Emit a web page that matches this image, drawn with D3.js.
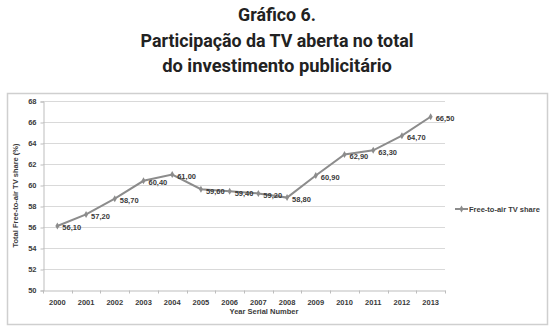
<!DOCTYPE html>
<html>
<head>
<meta charset="utf-8">
<script src="https://cdn.jsdelivr.net/npm/d3@7"></script>
<style>
  body { margin: 0; background: #fff; }
  svg { display: block; }
</style>
</head>
<body>
<div id="chart"></div>
<script>
// chart data
var titleLines = ["Gráfico 6.", "Participação da TV aberta no total", "do investimento publicitário"];
var titleWidths = [78, 273, 230]; // widths (condensed face)
var years = ["2000", "2001", "2002", "2003", "2004", "2005", "2006", "2007", "2008", "2009", "2010", "2011", "2012", "2013"];
var share = [56.10, 57.20, 58.70, 60.40, 61.00, 59.60, 59.40, 59.20, 58.80, 60.90, 62.90, 63.30, 64.70, 66.50];
var yTicks = [50, 52, 54, 56, 58, 60, 62, 64, 66, 68];
var seriesName = "Free-to-air TV share";

var w = 554, h = 331;
var plot = { left: 43, right: 445, top: 101, bottom: 290 };

var svg = d3.select("#chart").append("svg")
    .attr("width", w)
    .attr("height", h);

// title, squeezed horizontally to mimic the condensed face
svg.append("g").selectAll("text")
    .data(titleLines)
    .enter().append("text")
    .attr("text-anchor", "middle")
    .style("font-family", "Roboto, 'Liberation Sans', sans-serif")
    .style("font-weight", "bold")
    .style("font-size", "19px")
    .style("fill", "#222")
    .text(function(d) { return d; })
    .attr("transform", function(d, i) {
        var k = titleWidths[i] / this.getComputedTextLength();
        return "translate(277," + (21 + i * 25.5) + ") scale(" + k + ",1)";
    });

// chart frame
svg.append("rect")
    .attr("x", 7.5).attr("y", 93.5)
    .attr("width", 540).attr("height", 231)
    .attr("fill", "#fff")
    .attr("stroke", "#cfcfcf")
    .attr("stroke-width", 1.5);

var x = d3.scaleBand().domain(years).range([plot.left, plot.right]);
var y = d3.scaleLinear().domain([50, 68]).range([plot.bottom, plot.top]);

// gridlines
svg.append("g").selectAll("line")
    .data(yTicks.slice(1))
    .enter().append("line")
    .attr("x1", plot.left).attr("x2", plot.right)
    .attr("y1", function(d) { return y(d) + 0.5; })
    .attr("y2", function(d) { return y(d) + 0.5; })
    .attr("stroke", "#d9d9d9");

// y axis
var yAxis = svg.append("g")
    .attr("transform", "translate(" + (plot.left + 0.5) + ",0.5)")
    .call(d3.axisLeft(y).tickValues(yTicks).tickSize(3).tickPadding(4).tickFormat(d3.format("d")));

// x axis, ticks at category boundaries
var xAxis = svg.append("g")
    .attr("transform", "translate(0," + (plot.bottom + 0.5) + ")")
    .call(d3.axisBottom(x).tickSize(0).tickPadding(9));
xAxis.selectAll(".bound")
    .data(d3.range(years.length + 1))
    .enter().append("line")
    .attr("class", "bound")
    .attr("x1", function(i) { return Math.round(plot.left + i * x.step()) + 0.5; })
    .attr("x2", function(i) { return Math.round(plot.left + i * x.step()) + 0.5; })
    .attr("y1", 0).attr("y2", 3)
    .attr("stroke", "#bdbdbd");

[xAxis, yAxis].forEach(function(a) {
    a.select(".domain").attr("stroke", "#bdbdbd");
    a.selectAll(".tick line").attr("stroke", "#bdbdbd");
    a.selectAll("text")
        .style("font-family", "'Liberation Sans', Arial, sans-serif")
        .style("font-weight", "bold")
        .style("font-size", "7.5px")
        .style("fill", "#3a3a3a");
});

// axis titles
svg.append("text")
    .attr("x", (plot.left + plot.right) / 2 + 20)
    .attr("y", 314)
    .attr("text-anchor", "middle")
    .style("font-family", "'Liberation Sans', Arial, sans-serif")
    .style("font-weight", "bold")
    .style("font-size", "7.5px")
    .style("fill", "#3a3a3a")
    .text("Year Serial Number");

svg.append("text")
    .attr("transform", "translate(18," + ((plot.top + plot.bottom) / 2) + ") rotate(-90)")
    .attr("text-anchor", "middle")
    .style("font-family", "'Liberation Sans', Arial, sans-serif")
    .style("font-weight", "bold")
    .style("font-size", "7.5px")
    .style("fill", "#3a3a3a")
    .text("Total Free-to-air TV share (%)");

// series line
var line = d3.line()
    .x(function(d, i) { return x(years[i]) + x.bandwidth() / 2; })
    .y(function(d) { return y(d); });

svg.append("path")
    .datum(share)
    .attr("d", line)
    .attr("fill", "none")
    .attr("stroke", "#8c8c8c")
    .attr("stroke-width", 2);

// markers
svg.append("g").selectAll("path")
    .data(share)
    .enter().append("path")
    .attr("transform", function(d, i) {
        return "translate(" + (x(years[i]) + x.bandwidth() / 2) + "," + y(d) + ")";
    })
    .attr("d", d3.symbol().type(d3.symbolDiamond).size(14))
    .attr("fill", "#8c8c8c");

// data labels
svg.append("g").selectAll("text")
    .data(share)
    .enter().append("text")
    .attr("x", function(d, i) { return x(years[i]) + x.bandwidth() / 2 + 5; })
    .attr("y", function(d) { return y(d) + 4.5; })
    .style("font-family", "'Liberation Sans', Arial, sans-serif")
    .style("font-weight", "bold")
    .style("font-size", "7.5px")
    .style("fill", "#3a3a3a")
    .text(function(d) { return d.toFixed(2).replace(".", ","); });

// legend
var legend = svg.append("g").attr("transform", "translate(455,209)");
legend.append("line")
    .attr("x1", 0).attr("x2", 13)
    .attr("stroke", "#8c8c8c").attr("stroke-width", 2);
legend.append("path")
    .attr("transform", "translate(6.5,0)")
    .attr("d", d3.symbol().type(d3.symbolDiamond).size(14))
    .attr("fill", "#8c8c8c");
legend.append("text")
    .attr("x", 14).attr("y", 2.7)
    .style("font-family", "'Liberation Sans', Arial, sans-serif")
    .style("font-weight", "bold")
    .style("font-size", "7.5px")
    .style("fill", "#3a3a3a")
    .text(seriesName);
</script>
</body>
</html>
